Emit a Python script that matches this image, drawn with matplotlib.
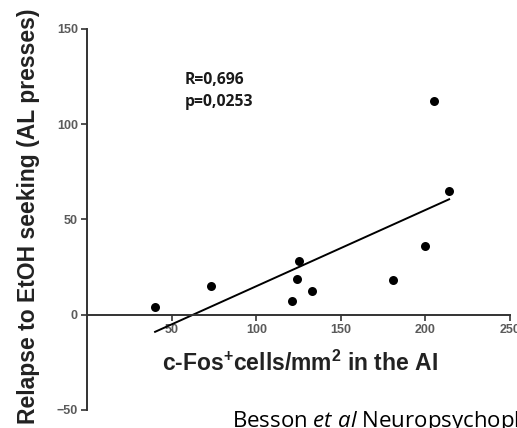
import matplotlib
matplotlib.use('Agg')

import matplotlib.pyplot as plt
import numpy as np

plt.rcParams['mathtext.fontset'] = 'custom'
plt.rcParams['mathtext.rm'] = 'Open Sans'
plt.rcParams['mathtext.it'] = 'Open Sans:italic'
plt.rcParams['mathtext.bf'] = 'Liberation Sans:bold'

# c-Fos+ cells/mm2 in the AI vs relapse (AL presses)
cfos = [40, 73, 121, 124, 125, 133, 181, 200, 205, 214]
relapse = [4, 15, 7, 19, 28, 12.5, 18, 36, 112, 65]
yticks = [-50, 0, 50, 100, 150]
xticks = [50, 100, 150, 200, 250]
stats = ['R=0,696', 'p=0,0253']

fig = plt.figure(figsize=(5.17, 4.28), dpi=100)
ax = fig.add_axes([0.1692, 0.0421, 0.8172, 0.8902])

x = np.array(cfos)
y = np.array(relapse)
ax.scatter(x, y, s=42, color='black', zorder=3, linewidths=0)

# linear regression over the data range
slope, icpt = np.polyfit(x, y, 1)
xl = np.array([x.min(), x.max()])
ax.plot(xl, slope * xl + icpt, color='black', lw=1.4, zorder=2)

ax.set_xlim(0, 250)
ax.set_ylim(-50, 150)
ax.spines['top'].set_visible(False)
ax.spines['right'].set_visible(False)
ax.spines['bottom'].set_position(('data', 0))
for s in ('left', 'bottom'):
    ax.spines[s].set_linewidth(1.4)
    ax.spines[s].set_color('#333333')

ax.set_xticks(xticks)
ax.set_yticks(yticks)
ax.tick_params(axis='both', direction='out', length=4, width=1.2, color='#333333',
               labelsize=9, labelcolor='#5a5a5a', pad=3)
for lab in ax.get_xticklabels() + ax.get_yticklabels():
    lab.set_family('Liberation Sans')
    lab.set_fontweight('bold')

ax.text(57.7, 123, stats[0], fontsize=11.3, fontweight='bold', family='Open Sans',
        color='#1a1a1a', va='center', ha='left')
ax.text(57.7, 111.7, stats[1], fontsize=11.3, fontweight='bold', family='Open Sans',
        color='#1a1a1a', va='center', ha='left')

fig.text(0.580, 0.152, r'c-Fos$^{\mathbf{+}}$cells/mm$^{\mathbf{2}}$ in the AI',
         fontsize=16.5, fontweight='bold', family='Liberation Sans',
         color='#222222', ha='center', va='center')
fig.text(0.056, 0.495, 'Relapse to EtOH seeking (AL presses)', fontsize=16.5,
         fontweight='bold', family='Liberation Sans', color='#222222',
         rotation=90, ha='center', va='center')

fig.text(0.4487, 0.003, r'Besson $\mathit{et\ al}$ Neuropsychopharmacology',
         fontsize=16, family='Open Sans', color='black', ha='left', va='baseline')

fig.savefig('out.png', dpi=100)
